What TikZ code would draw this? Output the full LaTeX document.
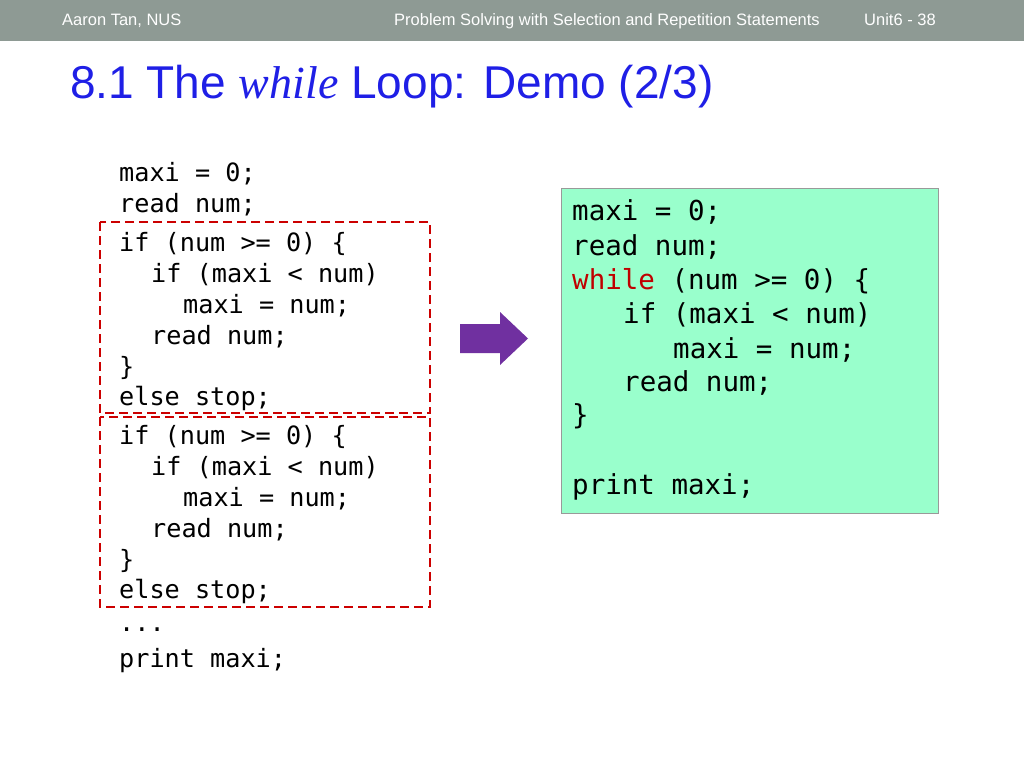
\documentclass[tikz,border=0pt]{standalone}
\usepackage{fontspec}
\setmainfont{Liberation Sans}
\newfontfamily\codefont{DejaVu Sans Mono}
\usetikzlibrary{positioning}
\definecolor{barGray}{HTML}{8E9A94}
\definecolor{titleBlue}{HTML}{1F1FE6}
\definecolor{codeGreen}{HTML}{99FFCC}
\definecolor{arrowPurple}{HTML}{7030A0}
\definecolor{kwRed}{HTML}{C00000}
\tikzset{
  hdr/.style={text=white, font=\fontsize{16.5}{18}\selectfont, anchor=base west, inner sep=0pt},
  codeL/.style={font=\codefont\fontsize{25.2}{27}\selectfont, anchor=base west, inner sep=0pt},
  codeR/.style={font=\codefont\fontsize{27.5}{30}\selectfont, anchor=base west, inner sep=0pt},
  redbox/.style={draw=red!80!black, line width=1.6pt, dash pattern=on 9pt off 5pt}
}
\begin{document}
\begin{tikzpicture}[x=1pt, y=-1pt]
        % Canvas and header bar
        \useasboundingbox (0,0) rectangle (1024,768);
        \fill[barGray] (0,0) rectangle (1024,41);
        \node[hdr] (author) at (62,26) {Aaron Tan, NUS};
        \node[hdr] (course) at (394,26) {Problem Solving with Selection and Repetition Statements};
        \node[hdr] (page) at (864,26) {Unit6 - 38};

        % Title
        \node[anchor=base west, text=titleBlue, inner sep=0pt,
              font=\fontsize{46}{48}\selectfont] (title) at (70,98)
              {8.1 The {\fontspec{Liberation Serif}\itshape while} Loop: Demo (2/3)};

        % Unrolled code
        \foreach \y/\x/\txt in {181/119/{maxi = 0;}, 212/119/{read num;},
            251/119/{if (num >= 0) \{}, 282/151/{if (maxi < num)}, 313/183/{maxi = num;},
            344/151/{read num;}, 375/119/{\}}, 405/119/{else stop;},
            444/119/{if (num >= 0) \{}, 475/151/{if (maxi < num)}, 506/183/{maxi = num;},
            537/151/{read num;}, 568/119/{\}}, 598/119/{else stop;},
            631/119/{...}, 667/119/{print maxi;}}
            \node[codeL] at (\x,\y) {\txt};

        % Repeated blocks
        \draw[redbox] (100,222) rectangle (430,413);
        \draw[redbox] (100,417) rectangle (430,607);

        % Arrow
        \fill[arrowPurple] (460,324) -- (500,324) -- (500,312) -- (528,338.5)
            -- (500,365) -- (500,353) -- (460,353) -- cycle;

        % Loop version
        \draw[fill=codeGreen, draw=gray!80, line width=1pt] (561,188) rectangle (938,513);
        \foreach \y/\x/\txt in {220/572/{maxi = 0;}, 255/572/{read num;},
            289/572/{\textcolor{kwRed}{while} (num >= 0) \{}, 323/623/{if (maxi < num)},
            358/673/{maxi = num;}, 391/623/{read num;}, 424/572/{\}}, 494/572/{print maxi;}}
            \node[codeR] at (\x,\y) {\txt};
\end{tikzpicture}
\end{document}
